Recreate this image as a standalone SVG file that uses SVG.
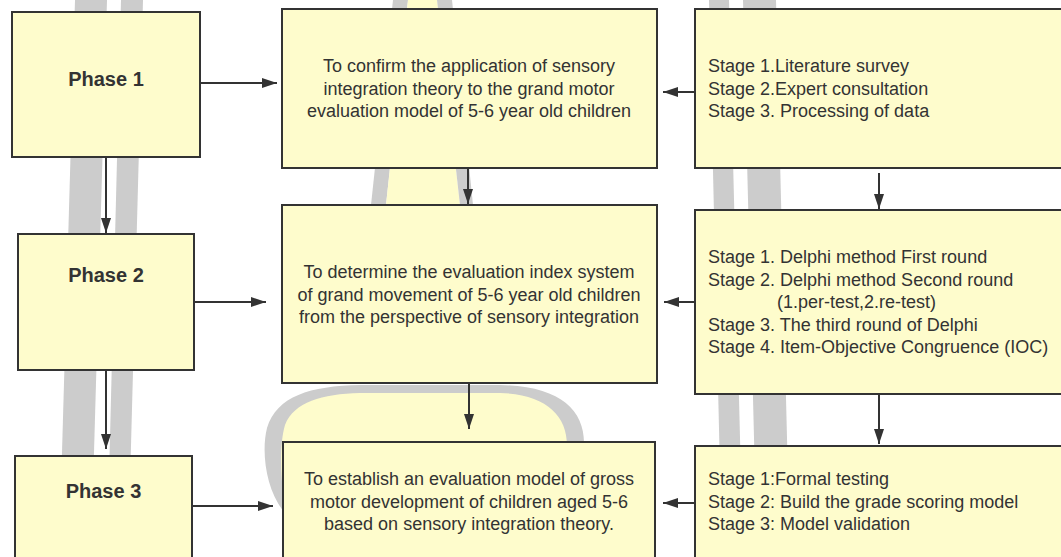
<svg xmlns="http://www.w3.org/2000/svg" width="1061" height="557" viewBox="0 0 1061 557">
  <style>
    .box { fill: #fefccc; stroke: #333333; stroke-width: 2; }
    .deco { fill: #cccccc; }
    .band { fill: #fefccc; }
    .phase { font-family: "Liberation Sans", Arial, sans-serif; font-size: 20px; font-weight: bold; fill: #333333; text-anchor: middle; }
    .ctext { font-family: "Liberation Sans", Arial, sans-serif; font-size: 18px; fill: #333333; text-anchor: middle; }
    .ltext { font-family: "Liberation Sans", Arial, sans-serif; font-size: 18px; fill: #333333; }
    .conn { stroke: #333333; stroke-width: 2; fill: none; marker-end: url(#arrow); }
  </style>
  <defs>
    <marker id="arrow" markerUnits="userSpaceOnUse" markerWidth="15" markerHeight="10" refX="15" refY="5" orient="auto">
      <path d="M0,0 L15,5 L0,10 z" fill="#333333"/>
    </marker>
  </defs>
  <rect width="1061" height="557" fill="#ffffff"/>

  <g id="background-decoration">
    <polygon class="deco" points="75,0 107,0 91,557 59,557"/>
    <polygon class="deco" points="121,0 143,0 128,557 107,557"/>
    <polygon class="deco" points="393,0 408,0 386,205 371,205"/>
    <polygon class="band" points="408,0 437,0 460,205 386,205"/>
    <polygon class="deco" points="437,0 452,0 473,205 460,205"/>
    <polygon class="deco" points="709,0 729,0 743,557 722,557"/>
    <polygon class="deco" points="743,0 776,0 790,557 757,557"/>
    <path class="deco" d="M284,512 C266,490 261,452 267,428 C277,396 310,386 360,385 L500,385 C560,386 585,410 584,445 L584,530 L284,530 Z"/>
    <path class="band" d="M284,500 C280,470 280,442 285,425 C294,402 322,394 360,393 L500,393 C545,394 567,415 567,445 L567,530 L284,530 Z"/>
  </g>

  <g id="phase1">
    <rect class="box" x="12" y="12" width="188" height="145"/>
    <text class="phase" x="106" y="86">Phase 1</text>
  </g>
  <g id="phase2">
    <rect class="box" x="18" y="234" width="176" height="136"/>
    <text class="phase" x="106" y="282">Phase 2</text>
  </g>
  <g id="phase3">
    <rect class="box" x="15" y="456" width="177" height="120"/>
    <text class="phase" x="103.5" y="498">Phase 3</text>
  </g>

  <g id="goal1">
    <rect class="box" x="282" y="9" width="375" height="159"/>
    <text class="ctext" x="469" y="72">To confirm the application of sensory</text>
    <text class="ctext" x="469" y="94.5">integration theory to the grand motor</text>
    <text class="ctext" x="469" y="117">evaluation model of 5-6 year old children</text>
  </g>
  <g id="goal2">
    <rect class="box" x="282" y="205" width="375" height="178"/>
    <text class="ctext" x="469" y="278">To determine the evaluation index system</text>
    <text class="ctext" x="469" y="300.5">of grand movement of 5-6 year old children</text>
    <text class="ctext" x="469" y="323">from the perspective of sensory integration</text>
  </g>
  <g id="goal3">
    <rect class="box" x="283" y="442" width="372" height="130"/>
    <text class="ctext" x="469" y="485">To establish an evaluation model of gross</text>
    <text class="ctext" x="469" y="507.5">motor development of children aged 5-6</text>
    <text class="ctext" x="469" y="530">based on sensory integration theory.</text>
  </g>

  <g id="stages1">
    <rect class="box" x="695" y="9" width="400" height="159"/>
    <text class="ltext" x="708" y="72">Stage 1.Literature survey</text>
    <text class="ltext" x="708" y="94.5">Stage 2.Expert consultation</text>
    <text class="ltext" x="708" y="117">Stage 3. Processing of data</text>
  </g>
  <g id="stages2">
    <rect class="box" x="695" y="210" width="400" height="184"/>
    <text class="ltext" x="708" y="263">Stage 1. Delphi method First round</text>
    <text class="ltext" x="708" y="285.5">Stage 2. Delphi method Second round</text>
    <text class="ltext" x="777" y="308">(1.per-test,2.re-test)</text>
    <text class="ltext" x="708" y="330.5">Stage 3. The third round of Delphi</text>
    <text class="ltext" x="708" y="353">Stage 4. Item-Objective Congruence (IOC)</text>
  </g>
  <g id="stages3">
    <rect class="box" x="695" y="446" width="400" height="130"/>
    <text class="ltext" x="708" y="485">Stage 1:Formal testing</text>
    <text class="ltext" x="708" y="507.5">Stage 2: Build the grade scoring model</text>
    <text class="ltext" x="708" y="530">Stage 3: Model validation</text>
  </g>

  <g id="connectors">
    <line class="conn" x1="200" y1="83" x2="277" y2="83"/>
    <line class="conn" x1="194" y1="302" x2="266" y2="302"/>
    <line class="conn" x1="192" y1="506" x2="273" y2="506"/>
    <line class="conn" x1="106" y1="157" x2="106" y2="233"/>
    <line class="conn" x1="106" y1="370" x2="106" y2="449"/>
    <line class="conn" x1="468" y1="168" x2="468" y2="204"/>
    <line class="conn" x1="469" y1="383" x2="469" y2="429"/>
    <line class="conn" x1="695" y1="92" x2="663" y2="92"/>
    <line class="conn" x1="695" y1="302" x2="664" y2="302"/>
    <line class="conn" x1="695" y1="503" x2="663" y2="503"/>
    <line class="conn" x1="879" y1="173" x2="879" y2="209"/>
    <line class="conn" x1="879" y1="394" x2="879" y2="444"/>
  </g>
</svg>
